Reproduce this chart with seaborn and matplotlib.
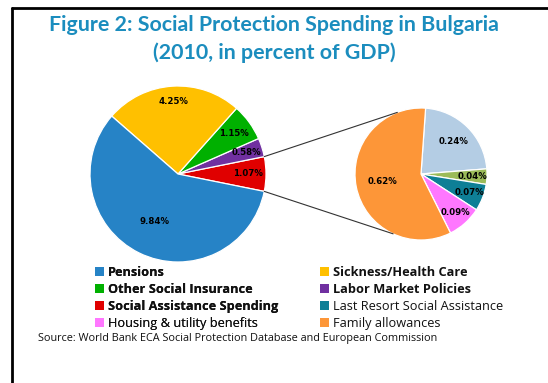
import numpy as np
import matplotlib
matplotlib.use("Agg")
import matplotlib.pyplot as plt
from matplotlib.patches import ConnectionPatch, Patch
from matplotlib.lines import Line2D
import seaborn as sns

# Social protection spending, Bulgaria 2010 (percent of GDP)
main_labels = ["Social Assistance Spending", "Labor Market Policies",
               "Other Social Insurance", "Sickness/Health Care", "Pensions"]
main_values = [1.07, 0.58, 1.15, 4.25, 9.84]
main_colors = ["#E00000", "#7030A0", "#00B000", "#FFC000", "#2683C6"]

# Breakdown of social assistance spending
sub_labels = [None, None, "Last Resort Social Assistance",
              "Housing & utility benefits", "Family allowances"]
sub_values = [0.24, 0.04, 0.07, 0.09, 0.62]
sub_colors = ["#B4CDE4", "#9BBB59", "#0E7F96", "#FF77FF", "#FD9638"]

title_lines = ["Figure 2: Social Protection Spending in Bulgaria",
               "(2010, in percent of GDP)"]
source_text = "Source: World Bank ECA Social Protection Database and European Commission"

sns.set_theme(style="white")
plt.rcParams["font.family"] = ["Open Sans", "DejaVu Sans"]

W, H = 548, 383
fig = plt.figure(figsize=(W / 100, H / 100), dpi=100)
fig.patch.set_facecolor("white")


def px_axes(cx, cy, r):
    """Square axes (in pixels) holding a unit pie centred at (cx, cy)."""
    ax = fig.add_axes([(cx - r) / W, 1 - (cy + r) / H, 2 * r / W, 2 * r / H])
    ax.set_xlim(-1, 1)
    ax.set_ylim(-1, 1)
    ax.set_axis_off()
    return ax


ax1 = px_axes(178, 174, 88)
ax2 = px_axes(421, 174, 66)

wedge_style = dict(edgecolor="white", linewidth=0.9)

start1 = -180 * main_values[0] / sum(main_values)
w1, _ = ax1.pie(main_values, colors=main_colors, startangle=start1,
                counterclock=True, radius=1, wedgeprops=wedge_style)
w2, _ = ax2.pie(sub_values, colors=sub_colors, startangle=86,
                counterclock=False, radius=1, wedgeprops=wedge_style)
for ax in (ax1, ax2):
    ax.set_xlim(-1, 1)
    ax.set_ylim(-1, 1)
    ax.set_aspect("equal")

main_dist = [0.80, 0.82, 0.78, 0.82, 0.60]
sub_dist = [0.70, 0.78, 0.78, 0.79, 0.59]


def value_labels(ax, wedges, values, dists):
    for w, v, d in zip(wedges, values, dists):
        ang = np.deg2rad((w.theta1 + w.theta2) / 2)
        ax.text(d * np.cos(ang), d * np.sin(ang), f"{v:.2f}%",
                ha="center", va="center", fontsize=6.2, fontweight="bold",
                family="DejaVu Sans", color="black")


value_labels(ax1, w1, main_values, main_dist)
value_labels(ax2, w2, sub_values, sub_dist)

# Lines from the social assistance slice to the breakdown pie
red = w1[0]
for th_main, th_sub in ((red.theta2, 111), (red.theta1, -115)):
    a1, a2 = np.deg2rad(th_main), np.deg2rad(th_sub)
    con = ConnectionPatch(xyA=(np.cos(a1), np.sin(a1)), coordsA=ax1.transData,
                          xyB=(np.cos(a2), np.sin(a2)), coordsB=ax2.transData,
                          color="#333333", linewidth=0.8)
    fig.add_artist(con)

# Title
title_color = "#1B8DBE"
for i, line in enumerate(title_lines):
    fig.text(274 / W, 1 - (25 + 28 * i) / H, line, ha="center", va="center",
             fontsize=15.4, fontweight="bold", color=title_color, family="Lato")

# Legend (two columns)
col1 = [(main_labels[4], main_colors[4], True),
        (main_labels[2], main_colors[2], True),
        (main_labels[0], main_colors[0], True),
        (sub_labels[3], sub_colors[3], False)]
col2 = [(main_labels[3], main_colors[3], True),
        (main_labels[1], main_colors[1], True),
        (sub_labels[2], sub_colors[2], False),
        (sub_labels[4], sub_colors[4], False)]


def add_legend(entries, x, y):
    handles = [Patch(facecolor=c, edgecolor="none", label=l) for l, c, _ in entries]
    leg = fig.legend(handles=handles, loc="upper left",
                     bbox_to_anchor=(x / W, 1 - y / H), frameon=False,
                     fontsize=9.2, handlelength=0.7, handleheight=0.7,
                     handletextpad=0.3, labelspacing=0.3, borderpad=0,
                     borderaxespad=0)
    for t, (_, _, bold) in zip(leg.get_texts(), entries):
        t.set_fontweight("bold" if bold else "normal")
        t.set_color("#111111")
    return leg


leg1 = add_legend(col1, 95, 266)
fig.add_artist(leg1)
add_legend(col2, 320, 266)

fig.text(38 / W, 1 - 338 / H, source_text, ha="left", va="center",
         fontsize=7.8, color="#111111")

# Frame lines
fig.add_artist(Line2D([12 / W, 12 / W], [0, 1 - 7.5 / H], color="black",
                      linewidth=2, transform=fig.transFigure))
fig.add_artist(Line2D([12 / W, 1], [1 - 7.5 / H, 1 - 7.5 / H], color="black",
                      linewidth=2, transform=fig.transFigure))

fig.savefig("out.png", dpi=100)
